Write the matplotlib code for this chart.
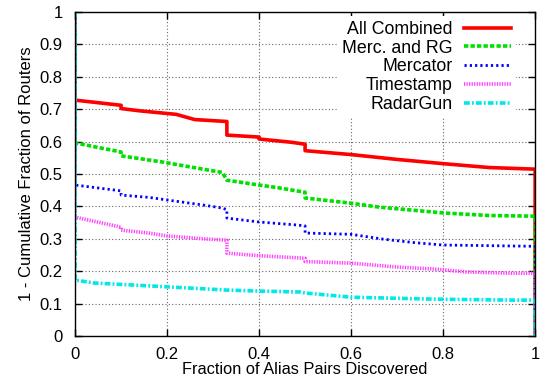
import matplotlib
matplotlib.use("Agg")
import matplotlib.pyplot as plt
from matplotlib.ticker import FuncFormatter, MultipleLocator

plt.rcParams["font.family"] = ["Liberation Sans", "DejaVu Sans"]

# curve vertices (repeated x = vertical step)
combined_x = [0.0, 0.10, 0.10, 0.14, 0.22, 0.26, 0.33, 0.33, 0.40, 0.40, 0.47, 0.49, 0.50, 0.50, 0.60, 0.70, 0.80, 0.90, 1.0]
combined_y = [0.728, 0.712, 0.702, 0.695, 0.684, 0.668, 0.662, 0.62, 0.614, 0.608, 0.598, 0.594, 0.592, 0.572, 0.56, 0.545, 0.532, 0.52, 0.515]

merc_rg_x = [0.0, 0.10, 0.10, 0.19, 0.29, 0.32, 0.33, 0.40, 0.44, 0.49, 0.50, 0.50, 0.60, 0.66, 0.80, 0.90, 1.0]
merc_rg_y = [0.596, 0.568, 0.556, 0.537, 0.512, 0.505, 0.481, 0.466, 0.458, 0.446, 0.444, 0.426, 0.41, 0.398, 0.38, 0.372, 0.37]

mercator_x = [0.0, 0.10, 0.10, 0.16, 0.20, 0.28, 0.32, 0.33, 0.33, 0.40, 0.48, 0.50, 0.50, 0.60, 0.67, 0.74, 0.80, 0.90, 1.0]
mercator_y = [0.466, 0.448, 0.435, 0.428, 0.42, 0.404, 0.395, 0.39, 0.364, 0.352, 0.343, 0.340, 0.318, 0.314, 0.299, 0.288, 0.281, 0.279, 0.277]

timestamp_x = [0.0, 0.10, 0.10, 0.16, 0.20, 0.29, 0.33, 0.33, 0.40, 0.49, 0.50, 0.50, 0.60, 0.70, 0.78, 0.85, 0.95, 1.0]
timestamp_y = [0.367, 0.336, 0.327, 0.318, 0.309, 0.299, 0.296, 0.256, 0.248, 0.241, 0.24, 0.23, 0.225, 0.213, 0.207, 0.198, 0.194, 0.194]

radargun_x = [0.0, 0.04, 0.20, 0.33, 0.40, 0.49, 0.50, 0.60, 0.78, 0.95, 1.0]
radargun_y = [0.173, 0.164, 0.152, 0.142, 0.139, 0.136, 0.133, 0.12, 0.114, 0.111, 0.111]

labels = ["All Combined", "Merc. and RG", "Mercator", "Timestamp", "RadarGun"]
colors = ["#ff0000", "#00e000", "#0000ff", "#ff40ff", "#00e8e8"]
styles = [
    dict(lw=2.6, linestyle="-"),
    dict(lw=2.6, dashes=(1.2, 0.6)),
    dict(lw=2.0, dashes=(0.8, 1.1)),
    dict(lw=2.6, dashes=(0.35, 0.35)),
    dict(lw=2.6, dashes=(1.6, 0.6, 0.5, 0.6)),
]
series = [
    (combined_x, combined_y),
    (merc_rg_x, merc_rg_y),
    (mercator_x, mercator_y),
    (timestamp_x, timestamp_y),
    (radargun_x, radargun_y),
]

fig = plt.figure(figsize=(5.4, 3.85), dpi=100)
ax = fig.add_axes([0.139, 0.127, 0.852, 0.842])

for (xs, ys), lab, col, st in zip(series, labels, colors, styles):
    # curve starts at 1 at x=0 and drops to 0 at x=1
    x = [0.0] + xs + [1.0]
    y = [1.0] + ys + [0.0]
    ax.plot(x, y, color=col, label=lab, **st)

ax.set_xlim(0, 1)
ax.set_ylim(0, 1)
ax.xaxis.set_major_locator(MultipleLocator(0.2))
ax.yaxis.set_major_locator(MultipleLocator(0.1))
fmt = FuncFormatter(lambda v, p: f"{v:g}")
ax.xaxis.set_major_formatter(fmt)
ax.yaxis.set_major_formatter(fmt)
ax.tick_params(direction="in", length=5, width=1, top=True, right=True, labelsize=12)
ax.tick_params(axis="y", pad=9)
ax.tick_params(axis="x", pad=8)
ax.grid(True, color="0.4", linestyle=(0, (1, 2)), linewidth=0.8)
ax.set_axisbelow(True)
for sp in ax.spines.values():
    sp.set_linewidth(1.0)

ax.set_xlabel("Fraction of Alias Pairs Discovered", fontsize=11.8, labelpad=0)
ax.set_ylabel("1 - Cumulative Fraction of Routers", fontsize=12, labelpad=4)

leg = ax.legend(loc="upper right", bbox_to_anchor=(0.958, 0.986), fontsize=12.8,
                markerfirst=False, handlelength=2.65, handletextpad=0.65,
                labelspacing=0.1, borderpad=0.25, borderaxespad=0.0,
                frameon=True, fancybox=False, framealpha=1.0)
leg.get_frame().set_facecolor("white")
leg.get_frame().set_edgecolor("none")

fig.savefig("out.png", dpi=100)
